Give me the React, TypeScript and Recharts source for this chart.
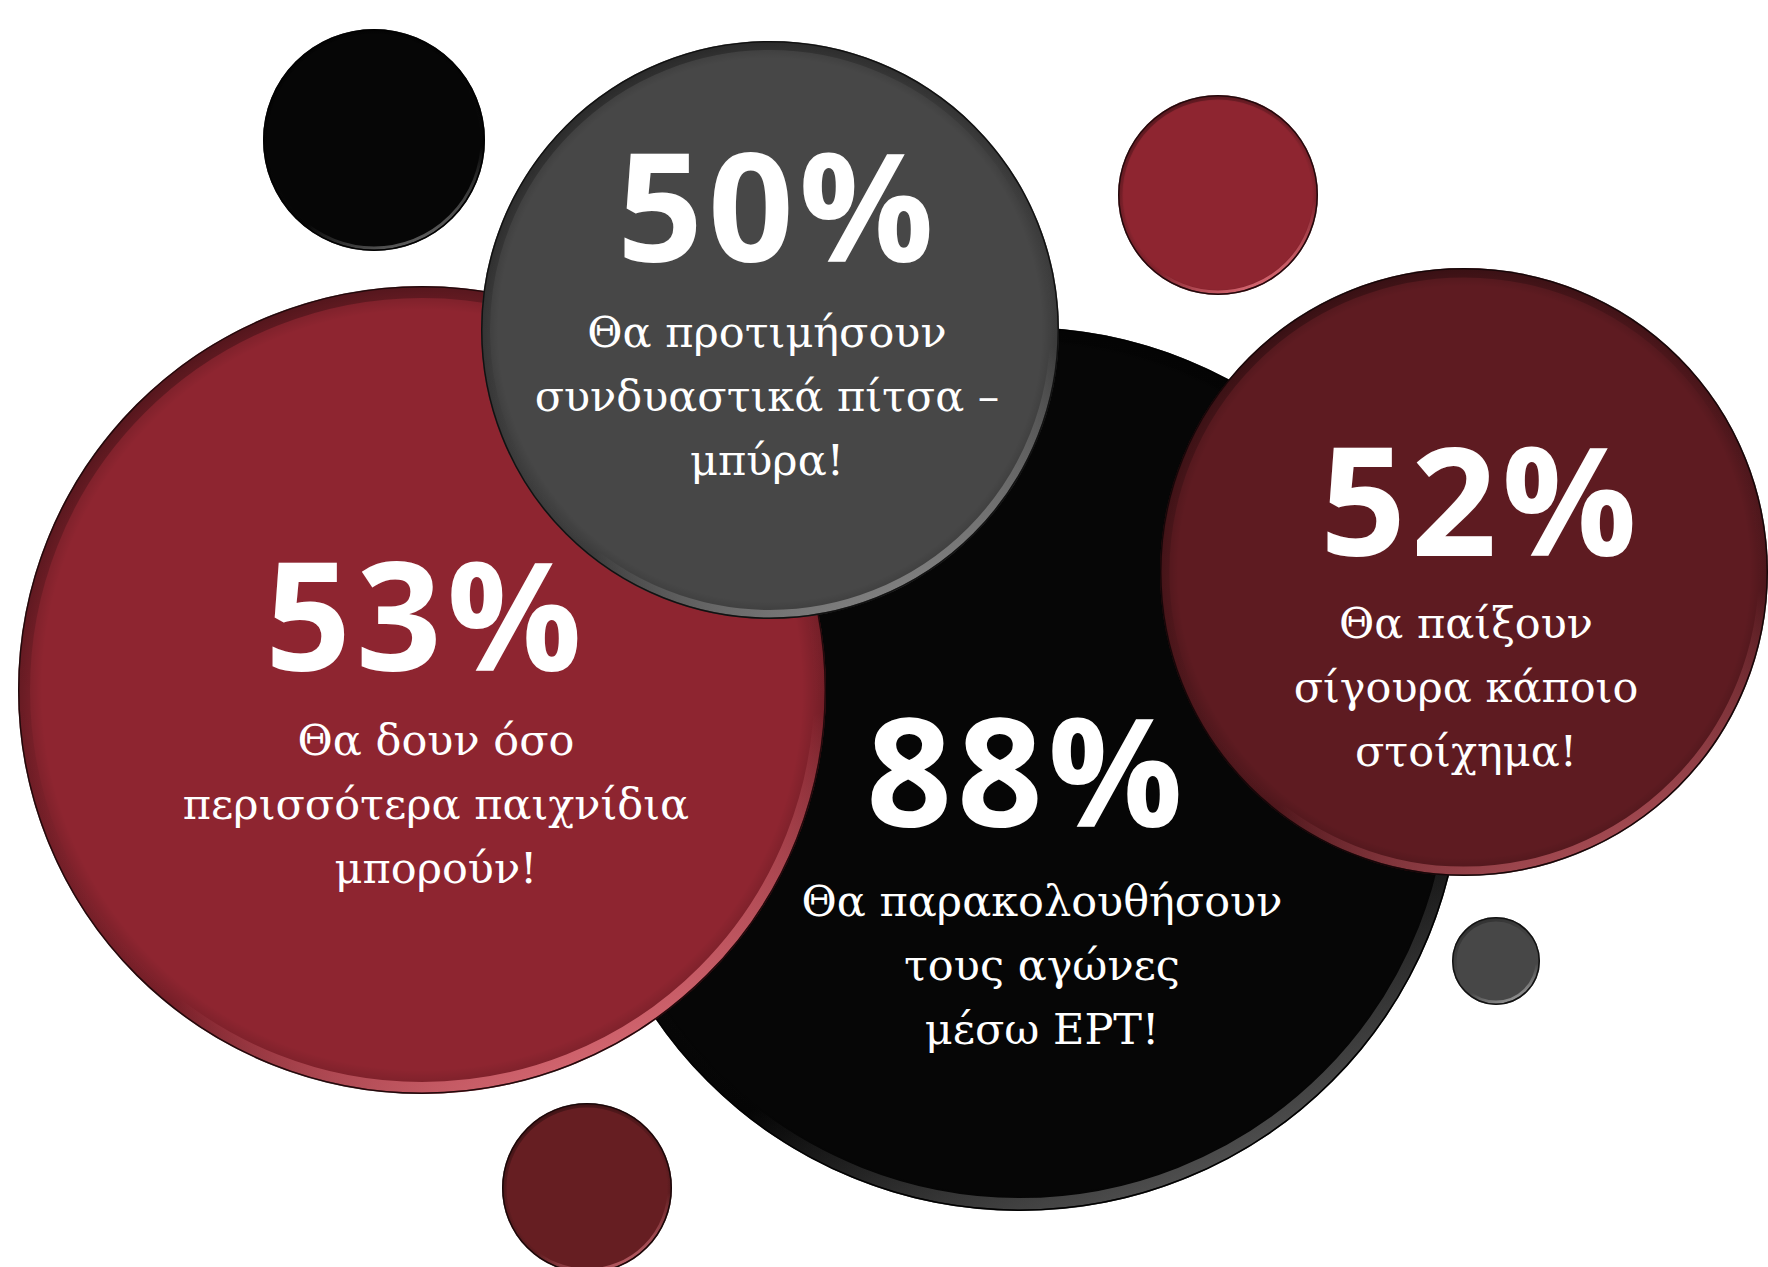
import React from 'react';
import { ScatterChart, Scatter, XAxis, YAxis } from 'recharts';

// Bubble data (drawing order: back to front)
const bubbleIds = ['watchERT', 'watchGames', 'pizzaBeer', 'bet', 'dotBlack', 'dotRed', 'dotGray', 'dotDarkRed'];
const bubbleX = [1020, 422, 770, 1464, 374, 1218, 1496, 587];
const bubbleY = [769, 690, 330, 572, 140, 195, 961, 1188];
const bubbleR = [442, 404, 289, 304, 111, 100, 44, 85];
const percentLabels = ['88%', '53%', '50%', '52%', '', '', '', ''];
const textLines: string[][] = [
  ['Θα παρακολουθήσουν', 'τους αγώνες', 'μέσω ΕΡΤ!'],
  ['Θα δουν όσο', 'περισσότερα παιχνίδια', 'μπορούν!'],
  ['Θα προτιμήσουν', 'συνδυαστικά πίτσα –', 'μπύρα!'],
  ['Θα παίξουν', 'σίγουρα κάποιο', 'στοίχημα!'],
  [], [], [], [],
];

// Styling / layout config (not data)
const colors = ['#060606', '#8E2530', '#474747', '#5E1B21', '#060606', '#8E2530', '#474747', '#661E22'];
const highlight = ['#5a5a5a', '#e0707a', '#8a8a8a', '#b0525a', '#6a6a6a', '#e0707a', '#9a9a9a', '#c0626a'];
// offsets of the text block relative to bubble centre: [pctDx, pctDy, linesDx, firstLineGap]
const textLayout = [
  [7, 58, 22, 89],
  [4, -19, 14, 84],
  [8, -68, -3, 85],
  [17, -16, 2, 82],
  [0, 0, 0, 0], [0, 0, 0, 0], [0, 0, 0, 0], [0, 0, 0, 0],
];

const W = 1768;
const H = 1267;

const data = bubbleIds.map((id, i) => ({
  id,
  idx: i,
  x: bubbleX[i],
  y: bubbleY[i],
  r: bubbleR[i],
  pct: percentLabels[i],
  lines: textLines[i],
}));

const Bubble = (props: any) => {
  const { cx, cy, payload } = props;
  const i = payload.idx;
  const r = payload.r;
  const gid = `rim-${payload.id}`;
  const sid = `shade-${payload.id}`;
  const w = Math.max(3, r * 0.026);
  const [pdx, pdy, ldx, gap] = textLayout[i];
  return (
    <g>
      <defs>
        <linearGradient id={gid} x1="0.25" y1="0" x2="0.7" y2="1">
          <stop offset="0" stopColor="#000" stopOpacity={0.3} />
          <stop offset="0.4" stopColor="#000" stopOpacity={0.06} />
          <stop offset="0.72" stopColor={highlight[i]} stopOpacity={0} />
          <stop offset="1" stopColor={highlight[i]} stopOpacity={0.95} />
        </linearGradient>
        <radialGradient id={sid} cx="0.5" cy="0.5" r="0.5">
          <stop offset="0.94" stopColor="#000" stopOpacity={0} />
          <stop offset="1" stopColor="#000" stopOpacity={0.2} />
        </radialGradient>
      </defs>
      <circle cx={cx} cy={cy} r={r} fill={colors[i]} />
      <circle cx={cx} cy={cy} r={r} fill={`url(#${sid})`} />
      <circle cx={cx} cy={cy} r={r - w / 2 - 1.5} fill="none" stroke={`url(#${gid})`} strokeWidth={w} />
      <circle cx={cx} cy={cy} r={r - 0.75} fill="none" stroke="rgba(0,0,0,0.7)" strokeWidth={1.5} />
      {payload.pct ? (
        <text
          x={cx + pdx}
          y={cy + pdy}
          textAnchor="middle"
          fill="#ffffff"
          fontFamily="'Open Sans', sans-serif"
          fontWeight={700}
          fontSize={150}
          letterSpacing={5}
        >
          {payload.pct}
        </text>
      ) : null}
      {payload.lines.map((line: string, k: number) => (
        <text
          key={k}
          x={cx + ldx}
          y={cy + pdy + gap + k * 64}
          textAnchor="middle"
          fill="#ffffff"
          fontFamily="'DejaVu Serif', serif"
          fontSize={43}
        >
          {line}
        </text>
      ))}
    </g>
  );
};

export default function App() {
  return (
    <div style={{ position: 'absolute', left: 0, top: 0, width: W, height: H, background: '#ffffff' }}>
      <ScatterChart width={W} height={H} margin={{ top: 0, right: 0, bottom: 0, left: 0 }}>
        <XAxis type="number" dataKey="x" domain={[0, W]} hide allowDataOverflow />
        <YAxis type="number" dataKey="y" domain={[0, H]} reversed hide allowDataOverflow />
        <Scatter data={data} shape={<Bubble />} isAnimationActive={false} />
      </ScatterChart>
    </div>
  );
}
